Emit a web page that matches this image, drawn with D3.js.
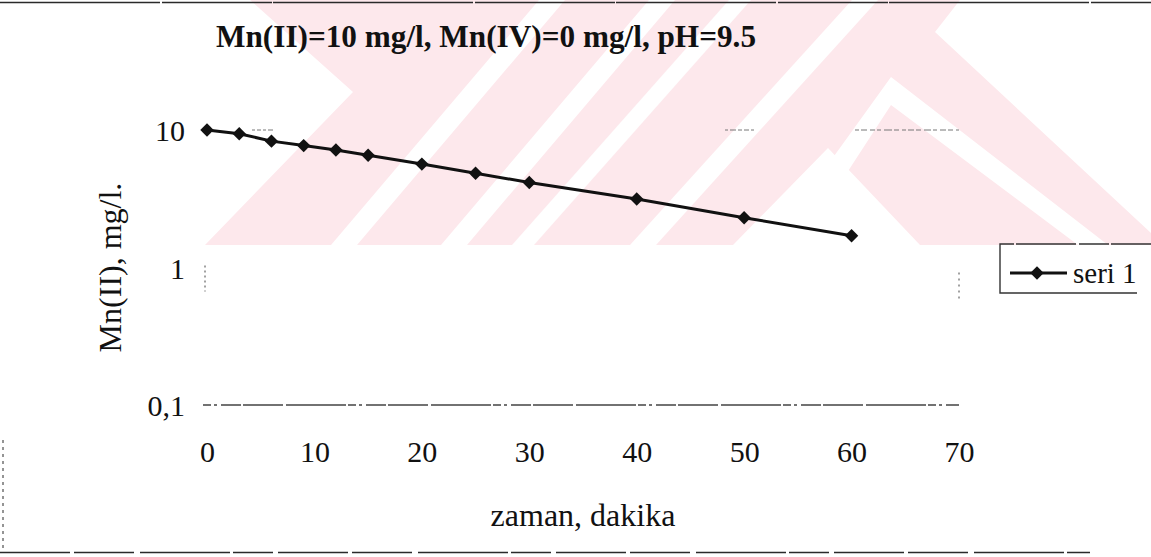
<!DOCTYPE html>
<html>
<head>
<meta charset="utf-8">
<script src="https://cdn.jsdelivr.net/npm/d3@7"></script>
<style>
  html, body { margin: 0; background: #fff; }
  svg { display: block; }
</style>
</head>
<body>
<svg id="chart" width="1151" height="557"></svg>
<script>
// Measured Mn(II) concentration over time
const timeMin = [0, 3, 6, 9, 12, 15, 20, 25, 30, 40, 50, 60];
const mnII = [10, 9.4, 8.3, 7.7, 7.15, 6.55, 5.65, 4.85, 4.15, 3.15, 2.3, 1.7];

const xTicks = [0, 10, 20, 30, 40, 50, 60, 70];
const yTicks = [0.1, 1, 10];
const yTickLabels = ["0,1", "1", "10"];

const seriesName = "seri 1";
const titleText = "Mn(II)=10 mg/l, Mn(IV)=0 mg/l, pH=9.5";
const xTitle = "zaman, dakika";
const yTitle = "Mn(II), mg/l.";

const svg = d3.select("#chart");
const W = 1151, H = 557;
const plot = { left: 207, right: 959, top: 130, bottom: 405 };
const serif = "'Liberation Serif', 'Times New Roman', serif";

// Background emblem (faint pink stripes behind the upper part of the chart)
const pink = "#fde8ec";
const emblem = svg.append("g");
emblem.append("defs").append("clipPath").attr("id", "emblemClip")
  .append("rect").attr("x", 0).attr("y", 0).attr("width", W).attr("height", 245);
const eg = emblem.append("g").attr("clip-path", "url(#emblemClip)");
const pinkShape = [[250, 0], [960, 0], [935, 32], [1151, 233], [1151, 245], [205, 245], [353, 92]];
eg.append("polygon").attr("points", pinkShape.join(" ")).attr("fill", pink);
// diagonal white bands: [x at top, x at bottom, width]
const bands = [[539, 331, 26], [649, 441, 26], [729, 512, 22], [852, 630, 26]];
bands.forEach(([xt, xb, w]) => {
  eg.append("polygon")
    .attr("points", [[xt, 0], [xt + w, 0], [xb + w, 245], [xb, 245]].join(" "))
    .attr("fill", "#fff");
});
// white chevrons on the right
eg.append("polygon")
  .attr("points", [[891, 77], [1108, 245], [1078, 245], [891, 105], [800, 245], [770, 245]].join(" "))
  .attr("fill", "#fff");
eg.append("polygon")
  .attr("points", [[828, 148], [920, 245], [733, 245]].join(" "))
  .attr("fill", "#fff");

// Scales
const x = d3.scaleLinear().domain([0, 70]).range([plot.left, plot.right]);
const y = d3.scaleLog().domain([0.1, 10]).range([plot.bottom, plot.top]);

// Outer chart frame (faded)
const frame = svg.append("g").attr("fill", "none").attr("stroke", "#2a2a2a");
frame.append("line").attr("x1", 0).attr("x2", W).attr("y1", 2.5).attr("y2", 2.5)
  .attr("stroke-width", 1.5).attr("stroke-dasharray", "160,2,110,1,200,2,140,1");
frame.append("line").attr("x1", 0).attr("x2", 1090).attr("y1", 552.5).attr("y2", 552.5)
  .attr("stroke-width", 1.5).attr("stroke-dasharray", "70,4,60,6,90,3,40,5");
frame.append("line").attr("x1", 3).attr("x2", 3).attr("y1", 440).attr("y2", 553)
  .attr("stroke-width", 1).attr("stroke-dasharray", "3,4");

// Gridlines at decades (plot area top and bottom)
const grid = svg.append("g").attr("fill", "none").attr("stroke", "#444");
grid.append("line")
  .attr("x1", x(0) - 4).attr("x2", x(70)).attr("y1", y(0.1)).attr("y2", y(0.1))
  .attr("stroke-width", 1.3).attr("stroke-dasharray", "8,3,3,4,20,2,40,3,60,2");
grid.append("line")
  .attr("x1", x(0)).attr("x2", x(70)).attr("y1", y(10)).attr("y2", y(10))
  .attr("stroke", "#777").attr("stroke-width", 1)
  .attr("stroke-dasharray", "0,45,3,2,4,2,3,2,5,452,3,2,6,2,4,2,5,2,3,101,4,2,6,3,5,2,4,3,8,2,5,3,4,2,6,2,5,3,7,2,4,3,6,2,5,3,4,2,6,2,3");
// faint remains of the plot-area side borders
grid.append("line").attr("x1", x(0) - 2).attr("x2", x(0) - 2)
  .attr("y1", y(1) - 2).attr("y2", y(1) + 24).attr("stroke-width", 1).attr("stroke-dasharray", "2,3");
grid.append("line").attr("x1", x(70)).attr("x2", x(70))
  .attr("y1", y(1) + 5).attr("y2", y(1) + 34).attr("stroke-width", 1).attr("stroke-dasharray", "2,4");

// Axis tick labels
const xAxis = d3.axisBottom(x).tickValues(xTicks).tickSize(0).tickPadding(0)
  .tickFormat(d3.format("d"));
const gx = svg.append("g").attr("transform", `translate(0,${plot.bottom + 36})`).call(xAxis);
gx.select(".domain").remove();
gx.selectAll("text").attr("font-family", serif).attr("font-size", 30).attr("fill", "#111");

const yAxis = d3.axisLeft(y).tickValues(yTicks).tickSize(0).tickPadding(0)
  .tickFormat((d, i) => yTickLabels[i]);
const gy = svg.append("g").attr("transform", `translate(${plot.left - 22},0)`).call(yAxis);
gy.select(".domain").remove();
gy.selectAll("text").attr("font-family", serif).attr("font-size", 30).attr("fill", "#111")
  .attr("dy", "0.36em");

// Titles
svg.append("text").attr("x", 486).attr("y", 47).attr("text-anchor", "middle")
  .attr("font-family", serif).attr("font-weight", "bold").attr("font-size", 31)
  .attr("textLength", 540).attr("lengthAdjust", "spacingAndGlyphs")
  .attr("fill", "#111").text(titleText);
svg.append("text").attr("x", (plot.left + plot.right) / 2).attr("y", 526)
  .attr("text-anchor", "middle").attr("font-family", serif).attr("font-size", 32)
  .attr("fill", "#111").text(xTitle);
svg.append("text").attr("transform", `translate(121,${(plot.top + plot.bottom) / 2}) rotate(-90)`)
  .attr("text-anchor", "middle").attr("font-family", serif).attr("font-size", 32)
  .attr("fill", "#111").text(yTitle);

// Series line and diamond markers
const pts = timeMin.map((t, i) => [t, mnII[i]]);
const line = d3.line().x(d => x(d[0])).y(d => y(d[1]));
svg.append("path").datum(pts).attr("d", line)
  .attr("fill", "none").attr("stroke", "#111").attr("stroke-width", 3);
const diamond = d3.symbol(d3.symbolSquare, 90);
svg.append("g").selectAll("path").data(pts).join("path")
  .attr("d", diamond)
  .attr("transform", d => `translate(${x(d[0])},${y(d[1])}) rotate(45)`)
  .attr("fill", "#111");

// Legend
const lg = svg.append("g");
lg.append("path").attr("d", "M1151,244 H1000 V293 H1151")
  .attr("fill", "none").attr("stroke", "#333").attr("stroke-width", 1.4)
  .attr("stroke-dasharray", "40,2,30,3,60,2,200");
lg.append("line").attr("x1", 1010).attr("x2", 1067).attr("y1", 273).attr("y2", 273)
  .attr("stroke", "#111").attr("stroke-width", 3);
lg.append("path").attr("d", diamond).attr("transform", "translate(1037,273) rotate(45)")
  .attr("fill", "#111");
lg.append("text").attr("x", 1073).attr("y", 283).attr("font-family", serif)
  .attr("font-size", 29).attr("fill", "#111").text(seriesName);
</script>
</body>
</html>
